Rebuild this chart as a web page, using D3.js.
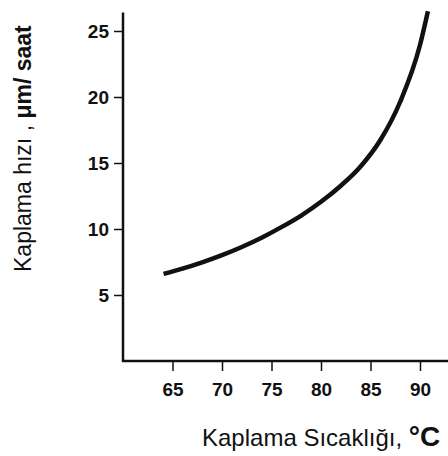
<!DOCTYPE html>
<html>
<head>
<meta charset="utf-8">
<script src="https://cdn.jsdelivr.net/npm/d3@7"></script>
<style>
body { margin: 0; background: #fff; }
svg { display: block; }
text { font-family: "Liberation Sans", Arial, sans-serif; fill: #111; }
</style>
</head>
<body>
<div id="chart"></div>
<script>
// plating temperature (°C) vs plating rate (µm/h)
const temps = [64.1, 66, 68, 70, 72, 74, 76, 78, 80, 82, 84, 86, 88, 90, 90.8];
const rates = [6.6, 7.0, 7.48, 8.02, 8.64, 9.34, 10.14, 11.02, 12.06, 13.28, 14.74, 16.74, 19.64, 23.94, 26.5];
const xTicks = [65, 70, 75, 80, 85, 90];
const yTicks = [5, 10, 15, 20, 25];

const data = temps.map((t, i) => ({t: t, r: rates[i]}));

const width = 448;
const height = 456;

const svg = d3.select('#chart')
  .append('svg')
  .attr('width', width)
  .attr('height', height);

const x = d3.scaleLinear()
  .domain([60, 90])
  .range([123, 420]);

const y = d3.scaleLinear()
  .domain([0, 25])
  .range([361, 31]);

// axes lines
svg.append('line')
  .attr('x1', x(60)).attr('x2', x(60))
  .attr('y1', y(26.4)).attr('y2', y(0) + 1)
  .attr('stroke', '#111').attr('stroke-width', 2.5);

svg.append('line')
  .attr('x1', x(60) - 1).attr('x2', width)
  .attr('y1', y(0)).attr('y2', y(0))
  .attr('stroke', '#111').attr('stroke-width', 2.5);

// x axis ticks and labels
svg.append('g')
  .attr('transform', `translate(0, ${y(0)})`)
  .call(d3.axisBottom(x).tickValues(xTicks).tickSize(10).tickPadding(12))
  .call(g => g.select('.domain').remove())
  .call(g => g.selectAll('line').attr('stroke', '#111').attr('stroke-width', 1.5))
  .call(g => g.selectAll('text')
    .attr('font-size', 19).attr('font-weight', 'bold').attr('fill', '#111')
    .attr('font-family', '"Liberation Sans", Arial, sans-serif'));

// y axis ticks and labels
svg.append('g')
  .attr('transform', `translate(${x(60)}, 0)`)
  .call(d3.axisLeft(y).tickValues(yTicks).tickSize(9).tickPadding(5))
  .call(g => g.select('.domain').remove())
  .call(g => g.selectAll('line').attr('stroke', '#111').attr('stroke-width', 1.5))
  .call(g => g.selectAll('text')
    .attr('font-size', 19).attr('font-weight', 'bold').attr('fill', '#111')
    .attr('font-family', '"Liberation Sans", Arial, sans-serif'));

// curve
const line = d3.line()
  .x(d => x(d.t))
  .y(d => y(d.r))
  .curve(d3.curveMonotoneX);

svg.append('path')
  .datum(data)
  .attr('d', line)
  .attr('fill', 'none')
  .attr('stroke', '#111')
  .attr('stroke-width', 4.5)
  .attr('stroke-linecap', 'butt');

// axis titles
const xt = svg.append('text')
  .attr('x', 202)
  .attr('y', 446)
  .attr('font-size', 24);
xt.append('tspan').text('Kaplama Sıcaklığı, ');
xt.append('tspan').attr('font-weight', 'bold').attr('font-size', 28).text('°C');

const yt = svg.append('text')
  .attr('transform', 'translate(31, 272) rotate(-90)')
  .attr('font-size', 23);
yt.append('tspan').text('Kaplama hızı , ');
yt.append('tspan').attr('font-weight', 'bold').text('μm/ saat');
</script>
</body>
</html>
